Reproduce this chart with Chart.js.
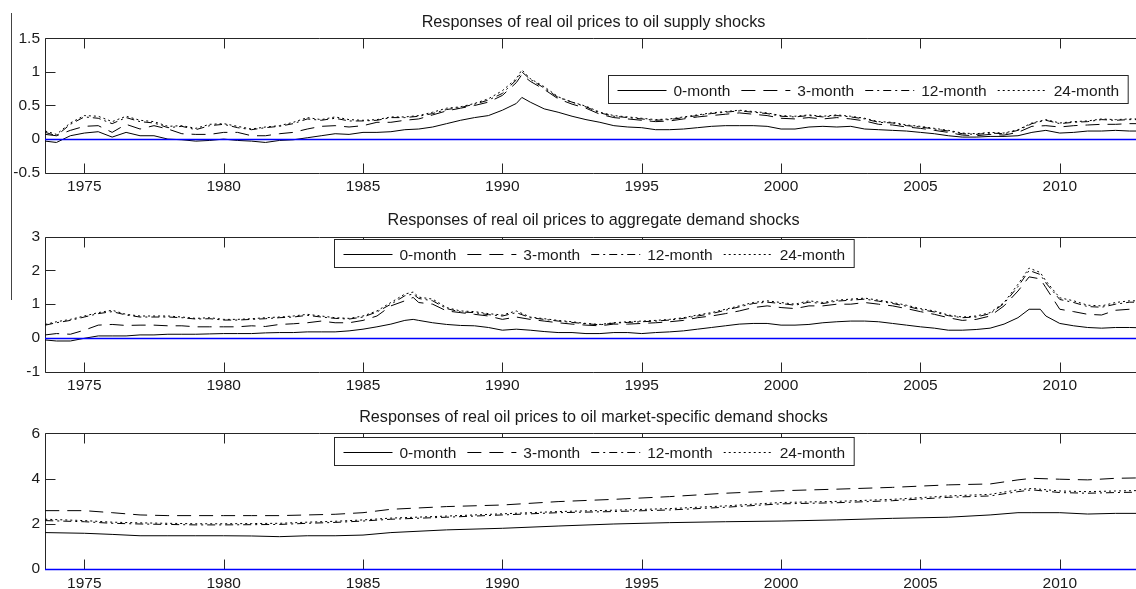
<!DOCTYPE html>
<html>
<head>
<meta charset="utf-8">
<script src="https://cdn.jsdelivr.net/npm/chart.js@4.4.1/dist/chart.umd.min.js"></script>
<style>
  html, body { margin: 0; padding: 0; background: #fff; overflow: hidden; width: 1136px; height: 589px; }
  .panel { position: absolute; left: 0; width: 1142px; }
  #edge { position: absolute; left: 11px; top: 13px; width: 1px; height: 287px; background: #444; }
</style>
</head>
<body>
<div id="edge"></div>
<div class="panel" style="top:0px;height:196px"><canvas id="supplyChart"></canvas></div>
<div class="panel" style="top:196px;height:199px"><canvas id="demandChart"></canvas></div>
<div class="panel" style="top:395px;height:197px"><canvas id="specificChart"></canvas></div>
<script>
// 横軸（年）
const xMin = 1973.59
const xMax = 2012.95
const yearTicks = [1975, 1980, 1985, 1990, 1995, 2000, 2005, 2010]
const legendLabels = ["0-month", "3-month", "12-month", "24-month"]

// パネル1：oil supply shocks
const supplyTitle = "Responses of real oil prices to oil supply shocks"
const supplyTicks = [-0.5, 0, 0.5, 1, 1.5]
const supplyYears = [1973.6, 1974, 1974.5, 1975, 1975.5, 1976, 1976.5, 1977, 1977.5, 1978,
  1978.5, 1979, 1979.5, 1980, 1980.5, 1981, 1981.5, 1982, 1982.5, 1983,
  1983.5, 1984, 1984.5, 1985, 1985.5, 1986, 1986.5, 1987, 1987.5, 1988,
  1988.5, 1989, 1989.5, 1990, 1990.5, 1990.7, 1991, 1991.5, 1992, 1992.5,
  1993, 1993.5, 1994, 1994.5, 1995, 1995.5, 1996, 1996.5, 1997, 1997.5,
  1998, 1998.5, 1999, 1999.5, 2000, 2000.5, 2001, 2001.5, 2002, 2002.5,
  2003, 2003.5, 2004, 2004.5, 2005, 2005.5, 2006, 2006.5, 2007, 2007.5,
  2008, 2008.5, 2009, 2009.5, 2010, 2010.5, 2011, 2011.5, 2012, 2012.5, 2012.95]
const supply0 = [-0.03, -0.05, 0.05, 0.09, 0.11, 0.03, 0.1, 0.05, 0.05, 0.0,
  -0.01, -0.03, -0.02, 0.0, -0.02, -0.03, -0.05, -0.02, -0.01, 0.02,
  0.05, 0.08, 0.07, 0.1, 0.1, 0.11, 0.14, 0.15, 0.18, 0.23,
  0.28, 0.32, 0.35, 0.43, 0.53, 0.62, 0.55, 0.45, 0.4, 0.34,
  0.29, 0.25, 0.2, 0.18, 0.17, 0.14, 0.14, 0.15, 0.17, 0.19,
  0.2, 0.2, 0.2, 0.19, 0.15, 0.15, 0.18, 0.19, 0.18, 0.19,
  0.15, 0.14, 0.13, 0.12, 0.1, 0.08, 0.05, 0.03, 0.03, 0.04,
  0.04, 0.05, 0.1, 0.13, 0.09, 0.1, 0.12, 0.12, 0.13, 0.12, 0.12]
const supply3 = [0.07, 0.05, 0.13, 0.19, 0.2, 0.1, 0.22, 0.15, 0.2, 0.15,
  0.08, 0.07, 0.07, 0.1, 0.1, 0.05, 0.05, 0.08, 0.1, 0.15,
  0.19, 0.2, 0.18, 0.2, 0.25, 0.25, 0.28, 0.3, 0.36, 0.42,
  0.46, 0.5, 0.55, 0.65, 0.84, 0.96, 0.86, 0.74, 0.6, 0.52,
  0.46, 0.37, 0.32, 0.3, 0.28, 0.26, 0.27, 0.3, 0.33, 0.35,
  0.37, 0.39, 0.37, 0.35, 0.31, 0.3, 0.32, 0.3, 0.32, 0.3,
  0.27, 0.22, 0.21, 0.18, 0.16, 0.13, 0.1, 0.06, 0.05, 0.07,
  0.06, 0.1, 0.19, 0.2, 0.18, 0.2, 0.21, 0.22, 0.22, 0.23, 0.23]
const supply12 = [0.1, 0.05, 0.22, 0.33, 0.31, 0.23, 0.32, 0.26, 0.24, 0.17,
  0.19, 0.14, 0.2, 0.22, 0.17, 0.14, 0.17, 0.19, 0.23, 0.3,
  0.28, 0.31, 0.27, 0.27, 0.28, 0.32, 0.32, 0.34, 0.38, 0.44,
  0.47, 0.52, 0.58, 0.68, 0.88, 1.0, 0.89, 0.76, 0.62, 0.55,
  0.48, 0.39, 0.34, 0.32, 0.3, 0.28, 0.29, 0.32, 0.35, 0.38,
  0.4, 0.42, 0.4, 0.38, 0.34, 0.33, 0.35, 0.33, 0.35, 0.33,
  0.3, 0.25, 0.24, 0.2, 0.18, 0.15, 0.12, 0.08, 0.07, 0.09,
  0.08, 0.13, 0.23, 0.28, 0.23, 0.25, 0.26, 0.29, 0.28, 0.29, 0.29]
const supply24 = [0.12, 0.07, 0.24, 0.35, 0.34, 0.26, 0.34, 0.28, 0.26, 0.19,
  0.2, 0.16, 0.22, 0.23, 0.19, 0.15, 0.18, 0.2, 0.25, 0.32,
  0.29, 0.33, 0.29, 0.28, 0.29, 0.33, 0.33, 0.35, 0.4, 0.46,
  0.48, 0.53, 0.6, 0.72, 0.9, 1.03, 0.9, 0.78, 0.63, 0.55,
  0.49, 0.4, 0.35, 0.33, 0.31, 0.29, 0.3, 0.33, 0.36, 0.39,
  0.41, 0.43, 0.41, 0.39, 0.35, 0.34, 0.36, 0.34, 0.36, 0.34,
  0.31, 0.26, 0.25, 0.21, 0.19, 0.16, 0.13, 0.09, 0.08, 0.1,
  0.09, 0.14, 0.24, 0.29, 0.24, 0.26, 0.27, 0.3, 0.29, 0.3, 0.3]

// パネル2：aggregate demand shocks
const demandTitle = "Responses of real oil prices to aggregate demand shocks"
const demandTicks = [-1, 0, 1, 2, 3]
const demandYears = [1973.6, 1974, 1974.5, 1975, 1975.5, 1976, 1976.5, 1977, 1977.5, 1978,
  1978.5, 1979, 1979.5, 1980, 1980.5, 1981, 1981.5, 1982, 1982.5, 1983,
  1983.5, 1984, 1984.5, 1985, 1985.5, 1986, 1986.5, 1986.8, 1987, 1987.5,
  1988, 1988.5, 1989, 1989.5, 1990, 1990.5, 1991, 1991.5, 1992, 1992.5,
  1993, 1993.5, 1994, 1994.5, 1995, 1995.5, 1996, 1996.5, 1997, 1997.5,
  1998, 1998.5, 1999, 1999.5, 2000, 2000.5, 2001, 2001.5, 2002, 2002.5,
  2003, 2003.5, 2004, 2004.5, 2005, 2005.5, 2006, 2006.5, 2007, 2007.5,
  2008, 2008.5, 2008.9, 2009.3, 2009.5, 2010, 2010.5, 2011, 2011.5, 2012,
  2012.5, 2012.95]
const demand0 = [-0.06, -0.09, -0.09, -0.01, 0.06, 0.06, 0.06, 0.09, 0.09, 0.11,
  0.11, 0.11, 0.12, 0.13, 0.13, 0.13, 0.15, 0.16, 0.16, 0.18,
  0.18, 0.18, 0.21, 0.26, 0.33, 0.41, 0.52, 0.55, 0.52, 0.45,
  0.4, 0.37, 0.36, 0.31, 0.23, 0.26, 0.23, 0.19, 0.16, 0.16,
  0.13, 0.13, 0.16, 0.16, 0.13, 0.16, 0.18, 0.21, 0.26, 0.31,
  0.36, 0.41, 0.43, 0.43, 0.38, 0.38, 0.4, 0.45, 0.48, 0.5,
  0.5, 0.48, 0.43, 0.38, 0.33, 0.29, 0.23, 0.23, 0.25, 0.29,
  0.41, 0.6, 0.85, 0.85, 0.65, 0.43, 0.36, 0.31, 0.29, 0.31,
  0.31, 0.3]
const demand3 = [0.09, 0.13, 0.11, 0.23, 0.38, 0.4, 0.37, 0.38, 0.38, 0.36,
  0.36, 0.33, 0.33, 0.33, 0.33, 0.36, 0.34, 0.4, 0.42, 0.45,
  0.5, 0.45, 0.45, 0.52, 0.65, 0.95, 1.1, 1.2, 1.05, 1.0,
  0.8, 0.75, 0.7, 0.65, 0.55, 0.62, 0.55, 0.5, 0.45, 0.41,
  0.38, 0.36, 0.41, 0.41, 0.43, 0.45, 0.48, 0.52, 0.6, 0.65,
  0.72, 0.8, 0.9, 0.95, 0.9, 0.87, 0.95, 0.95, 1.0, 1.0,
  1.05, 1.0, 0.95, 0.87, 0.78, 0.7, 0.6, 0.52, 0.55, 0.65,
  0.95, 1.39, 1.81, 1.75, 1.49, 0.85, 0.78, 0.7, 0.68, 0.82,
  0.85, 0.85]
const demand12 = [0.38, 0.45, 0.52, 0.62, 0.72, 0.78, 0.68, 0.62, 0.62, 0.62,
  0.6, 0.56, 0.57, 0.53, 0.53, 0.55, 0.57, 0.6, 0.62, 0.67,
  0.62, 0.58, 0.56, 0.62, 0.77, 1.0, 1.25, 1.3, 1.17, 1.1,
  0.87, 0.77, 0.75, 0.69, 0.65, 0.75, 0.6, 0.55, 0.5, 0.46,
  0.42, 0.39, 0.44, 0.46, 0.48, 0.5, 0.53, 0.58, 0.65, 0.72,
  0.82, 0.92, 1.02, 1.06, 1.02, 0.97, 1.06, 1.02, 1.09, 1.12,
  1.15, 1.09, 1.02, 0.94, 0.84, 0.77, 0.66, 0.6, 0.62, 0.72,
  1.02, 1.52, 2.0, 1.88, 1.63, 1.14, 1.05, 0.93, 0.91, 1.0,
  1.06, 1.06]
const demand24 = [0.4, 0.48, 0.55, 0.65, 0.75, 0.82, 0.7, 0.65, 0.65, 0.65,
  0.62, 0.58, 0.6, 0.55, 0.55, 0.57, 0.6, 0.62, 0.65, 0.7,
  0.65, 0.6, 0.58, 0.65, 0.8, 1.05, 1.3, 1.36, 1.21, 1.15,
  0.9, 0.8, 0.78, 0.72, 0.68, 0.8, 0.62, 0.57, 0.52, 0.48,
  0.43, 0.4, 0.45, 0.48, 0.5, 0.52, 0.55, 0.6, 0.68, 0.75,
  0.85, 0.95, 1.05, 1.1, 1.05, 1.0, 1.1, 1.05, 1.12, 1.15,
  1.18, 1.12, 1.05, 0.97, 0.87, 0.8, 0.68, 0.62, 0.65, 0.75,
  1.05, 1.59, 2.07, 1.94, 1.69, 1.19, 1.1, 0.97, 0.95, 1.05,
  1.1, 1.1]

// パネル3：oil market-specific demand shocks
const specificTitle = "Responses of real oil prices to oil market-specific demand shocks"
const specificTicks = [0, 2, 4, 6]
const specificYears = [1973.6, 1975, 1976, 1977, 1978, 1979, 1980, 1981, 1982, 1983,
  1984, 1985, 1986, 1988, 1990, 1992, 1994, 1996, 1998, 2000,
  2002, 2004, 2006, 2007.5, 2008.5, 2009, 2010, 2011, 2012, 2012.95]
const specific0 = [1.61, 1.58, 1.53, 1.47, 1.47, 1.47, 1.47, 1.46, 1.43, 1.47,
  1.47, 1.5, 1.61, 1.73, 1.8, 1.9, 1.99, 2.05, 2.09, 2.12,
  2.17, 2.24, 2.29, 2.39, 2.49, 2.49, 2.49, 2.43, 2.46, 2.46]
const specific3 = [2.58, 2.58, 2.49, 2.39, 2.36, 2.36, 2.36, 2.36, 2.36, 2.39,
  2.42, 2.49, 2.64, 2.76, 2.83, 2.98, 3.08, 3.2, 3.35, 3.46,
  3.53, 3.61, 3.72, 3.76, 3.94, 4.01, 3.97, 3.94, 4.01, 4.03]
const specific12 = [2.14, 2.09, 2.02, 1.99, 1.97, 1.95, 1.95, 1.96, 1.97, 2.02,
  2.06, 2.12, 2.2, 2.29, 2.39, 2.49, 2.54, 2.61, 2.73, 2.88,
  2.93, 3.02, 3.17, 3.23, 3.42, 3.5, 3.38, 3.35, 3.38, 3.4]
const specific24 = [2.2, 2.14, 2.07, 2.04, 2.02, 2.0, 2.0, 2.01, 2.02, 2.07,
  2.11, 2.17, 2.25, 2.34, 2.44, 2.54, 2.6, 2.67, 2.79, 2.94,
  2.99, 3.08, 3.23, 3.3, 3.5, 3.56, 3.45, 3.42, 3.45, 3.47]

// 線種（実線・破線・一点鎖線・点線）
const lineDash = [[], [14, 8], [8, 4, 2, 4], [2, 3]]
const textColor = "#1a1a1a"
const fontFamily = "'Liberation Sans', Arial, sans-serif"

// MATLAB 風の枠・目盛り・タイトル・凡例を描くプラグイン
const matlabAxes = {
  id: "matlabAxes",
  beforeDatasetsDraw(chart) {
    const { ctx, chartArea: a, scales: { x, y } } = chart
    const top = Math.round(a.top) + 0.5
    const bottom = Math.round(a.bottom) + 0.5
    const left = Math.round(a.left) + 0.5
    ctx.save()
    ctx.strokeStyle = "#262626"
    ctx.lineWidth = 1
    ctx.beginPath()
    ctx.moveTo(a.right, top); ctx.lineTo(left, top)
    ctx.lineTo(left, bottom); ctx.lineTo(a.right, bottom)
    // 目盛りは内向き
    x.ticks.forEach(t => {
      const px = Math.round(x.getPixelForValue(t.value)) + 0.5
      ctx.moveTo(px, bottom); ctx.lineTo(px, bottom - 10)
      ctx.moveTo(px, top); ctx.lineTo(px, top + 10)
    })
    y.ticks.forEach(t => {
      const py = Math.round(y.getPixelForValue(t.value)) + 0.5
      ctx.moveTo(left, py); ctx.lineTo(left + 10, py)
    })
    ctx.stroke()
    ctx.restore()
  },
  afterDatasetsDraw(chart, args, opts) {
    const { ctx, chartArea: a, scales: { y } } = chart
    ctx.save()
    // ゼロ線（青）
    const zy = Math.round(y.getPixelForValue(0)) + 0.5
    ctx.setLineDash([])
    ctx.strokeStyle = "#0000ff"
    ctx.lineWidth = 1.5
    ctx.beginPath()
    ctx.moveTo(a.left, zy); ctx.lineTo(a.right, zy)
    ctx.stroke()

    // タイトル
    ctx.fillStyle = textColor
    ctx.font = "16.2px " + fontFamily
    ctx.textAlign = "center"
    ctx.textBaseline = "alphabetic"
    ctx.fillText(opts.title, (a.left + a.right) / 2, a.top - 11.7)

    // 凡例
    ctx.font = "15.5px " + fontFamily
    const bx = Math.round(opts.legendLeft) + 0.5
    const by = Math.round(a.top + opts.legendTop) + 0.5
    const bh = 28
    const items = []
    let cx = bx + 9
    chart.data.datasets.forEach(ds => {
      const w = ctx.measureText(ds.label).width
      items.push({ ds, x: cx, w })
      cx += 49 + 7 + w + 11
    })
    const bw = cx - 11 + 9 - bx
    ctx.fillStyle = "#fff"
    ctx.fillRect(bx, by, bw, bh)
    ctx.strokeStyle = "#262626"
    ctx.lineWidth = 1
    ctx.strokeRect(bx, by, bw, bh)
    const my = Math.round(by + bh / 2) + 0.5
    items.forEach(it => {
      ctx.strokeStyle = "#000"
      ctx.setLineDash(it.ds.borderDash)
      ctx.beginPath()
      ctx.moveTo(it.x, my); ctx.lineTo(it.x + 49, my)
      ctx.stroke()
      ctx.setLineDash([])
      ctx.fillStyle = textColor
      ctx.textAlign = "left"
      ctx.textBaseline = "middle"
      ctx.fillText(it.ds.label, it.x + 56, my + 1)
    })
    ctx.restore()
  }
}

function makeChart(canvasId, title, years, series, yTicks, legendLeft, legendTop, padTop, axisHeight) {
  const datasets = series.map((vals, i) => ({
    label: legendLabels[i],
    data: years.map((yr, j) => ({ x: yr, y: vals[j] })),
    borderColor: "#000",
    borderWidth: 1,
    borderDash: lineDash[i],
    pointRadius: 0,
    fill: false,
    tension: 0,
  }))
  const tickFont = { family: fontFamily, size: 15.5 }
  return new Chart(document.getElementById(canvasId), {
    type: "line",
    data: { datasets: datasets },
    plugins: [matlabAxes],
    options: {
      responsive: true,
      maintainAspectRatio: false,
      animation: false,
      layout: { padding: { top: padTop, left: 0, right: 0, bottom: 0 } },
      plugins: {
        legend: { display: false },
        tooltip: { enabled: false },
        matlabAxes: { title: title, legendLeft: legendLeft, legendTop: legendTop },
      },
      scales: {
        x: {
          type: "linear",
          min: xMin,
          max: xMax,
          grid: { display: false, drawTicks: false },
          border: { display: false },
          afterBuildTicks: s => { s.ticks = yearTicks.map(v => ({ value: v })) },
          afterFit: s => { s.height = axisHeight },
          ticks: { padding: 5, color: textColor, font: tickFont, maxRotation: 0, autoSkip: false, callback: v => String(v) },
        },
        y: {
          min: yTicks[0],
          max: yTicks[yTicks.length - 1],
          grid: { display: false, drawTicks: false },
          border: { display: false },
          afterBuildTicks: s => { s.ticks = yTicks.map(v => ({ value: v })) },
          afterFit: s => { s.width = 45 },
          ticks: { padding: 5, color: textColor, font: tickFont, callback: v => String(v) },
        },
      },
    },
  })
}

makeChart("supplyChart", supplyTitle, supplyYears, [supply0, supply3, supply12, supply24], supplyTicks, 608, 36.7, 38.3, 23.3)
makeChart("demandChart", demandTitle, demandYears, [demand0, demand3, demand12, demand24], demandTicks, 334, 2.3, 40.7, 23.3)
makeChart("specificChart", specificTitle, specificYears, [specific0, specific3, specific12, specific24], specificTicks, 334, 3.7, 38.3, 23)
</script>
</body>
</html>
